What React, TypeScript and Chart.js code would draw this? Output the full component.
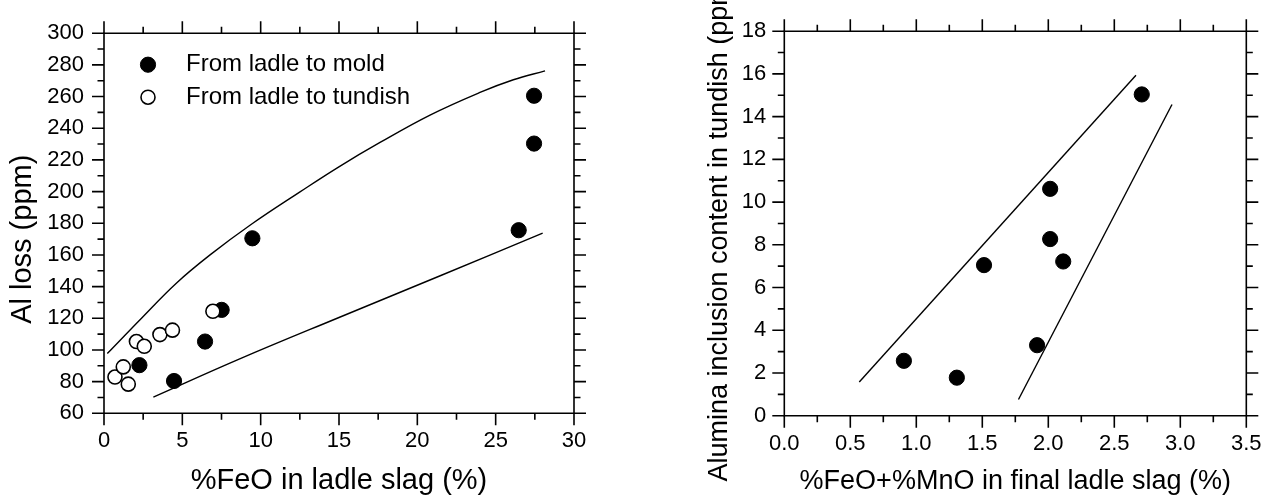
import React, { useEffect, useRef } from "react";
import { Chart, registerables } from "chart.js";

Chart.register(...registerables);

const FONT = "'Liberation Sans', Arial, Helvetica, sans-serif";

// ---------- Left chart data ----------
const moldFeO = [9.47, 27.45, 27.45, 26.47, 2.26, 4.47, 6.45, 7.51];
const moldAlLoss = [170.5, 260.5, 230.3, 175.6, 90.4, 80.4, 105.3, 125.3];
const tundishFeO = [0.7, 1.23, 1.55, 2.07, 2.57, 3.57, 4.37, 6.95];
const tundishAlLoss = [82.9, 89.3, 78.4, 105.3, 102.3, 109.7, 112.5, 124.4];
const upperBoundFeO = [0.21, 2.41, 4.6, 6.77, 9.43, 12.51, 15.02, 17.62, 20.81, 24.0, 26.13, 28.15];
const upperBoundAl = [97.7, 120.2, 142.0, 160.0, 179.5, 199.8, 215.8, 231.0, 248.3, 262.6, 270.6, 276.2];
const lowerBoundFeO = [3.15, 8.7, 15.0, 21.5, 28.0];
const lowerBoundAl = [70.2, 94.5, 120.5, 147.0, 173.7];
const leftXTickLabels = ["0", "5", "10", "15", "20", "25", "30"];
const leftYTickLabels = ["60", "80", "100", "120", "140", "160", "180", "200", "220", "240", "260", "280", "300"];

// ---------- Right chart data ----------
const slagOxide = [0.906, 1.307, 1.513, 1.915, 2.014, 2.014, 2.113, 2.708];
const aluminaTundish = [2.57, 1.78, 7.05, 3.3, 10.62, 8.27, 7.22, 15.04];
const upperLineX = [0.568, 2.664];
const upperLineY = [1.58, 15.94];
const lowerLineX = [1.774, 2.937];
const lowerLineY = [0.76, 14.57];
const rightXTickLabels = ["0.0", "0.5", "1.0", "1.5", "2.0", "2.5", "3.0", "3.5"];
const rightYTickLabels = ["0", "2", "4", "6", "8", "10", "12", "14", "16", "18"];

const zip = (xs: number[], ys: number[]) => xs.map((x, i) => ({ x, y: ys[i] }));

const frameTicks = {
  id: "frameTicks",
  afterDatasetsDraw(chart: any, _args: any, opts: any) {
    const { ctx, chartArea } = chart;
    const { left, right, top, bottom } = chartArea;
    const xs = chart.scales.x;
    const ys = chart.scales.y;
    ctx.save();
    ctx.strokeStyle = "#000";
    ctx.lineWidth = 1.6;
    ctx.lineCap = "square";
    ctx.beginPath();
    ctx.rect(left, top, right - left, bottom - top);
    ctx.stroke();
    ctx.lineCap = "butt";
    ctx.beginPath();
    const nx = Math.round((xs.max - xs.min) / opts.xMinor);
    for (let i = 0; i <= nx; i++) {
      const v = xs.min + i * opts.xMinor;
      const len = i % 2 === 0 ? 12 : 6.5;
      const px = xs.getPixelForValue(v);
      ctx.moveTo(px, bottom);
      ctx.lineTo(px, bottom + len);
      ctx.moveTo(px, top);
      ctx.lineTo(px, top - len);
    }
    const ny = Math.round((ys.max - ys.min) / opts.yMinor);
    for (let i = 0; i <= ny; i++) {
      const v = ys.min + i * opts.yMinor;
      const len = i % 2 === 0 ? 12 : 6.5;
      const py = ys.getPixelForValue(v);
      ctx.moveTo(left, py);
      ctx.lineTo(left - len, py);
      ctx.moveTo(right, py);
      ctx.lineTo(right + len, py);
    }
    ctx.stroke();

    // y-axis title
    if (opts.yTitle) {
      ctx.save();
      ctx.fillStyle = "#000";
      ctx.font = `${opts.yTitle.size}px ${FONT}`;
      ctx.textAlign = "center";
      ctx.textBaseline = "middle";
      ctx.translate(opts.yTitle.x, (top + bottom) / 2 + opts.yTitle.shift);
      ctx.rotate(-Math.PI / 2);
      ctx.fillText(opts.yTitle.text, 0, 0);
      ctx.restore();
    }

    // legend
    if (opts.legend) {
      const items = chart.data.datasets.slice(0, opts.legend.count);
      ctx.font = `${opts.legend.size}px ${FONT}`;
      ctx.textAlign = "left";
      ctx.textBaseline = "middle";
      items.forEach((ds: any, i: number) => {
        const cy = top + opts.legend.y0 + i * opts.legend.dy;
        const cx = left + opts.legend.mx;
        ctx.beginPath();
        ctx.arc(cx, cy, ds.pointRadius, 0, Math.PI * 2);
        ctx.fillStyle = ds.pointBackgroundColor;
        ctx.fill();
        ctx.lineWidth = ds.pointBorderWidth;
        ctx.strokeStyle = ds.pointBorderColor;
        ctx.stroke();
        ctx.fillStyle = "#000";
        ctx.fillText(ds.label, left + opts.legend.tx, cy);
      });
    }
    ctx.restore();
  },
};

const tickFont = { family: FONT, size: 22 };

function makeScales(p: {
  xMin: number; xMax: number; xStep: number; xLabels: string[]; xTitle: string; xTitleSize: number; xTitlePad: number;
  yMin: number; yMax: number; yStep: number; yLabels: string[];
  yWidth: number; xHeight: number; yPad: number; xPad: number;
}) {
  return {
    x: {
      type: "linear",
      position: "bottom",
      min: p.xMin,
      max: p.xMax,
      afterFit: (s: any) => { s.height = p.xHeight; },
      grid: { display: false, drawTicks: false },
      border: { display: false },
      ticks: {
        stepSize: p.xStep,
        autoSkip: false,
        maxRotation: 0,
        padding: p.xPad,
        color: "#000",
        font: tickFont,
        callback: (_v: any, i: number) => p.xLabels[i],
      },
      title: {
        display: true,
        text: p.xTitle,
        color: "#000",
        font: { family: FONT, size: p.xTitleSize },
        padding: { top: 0, bottom: p.xTitlePad },
      },
    },
    y: {
      type: "linear",
      position: "left",
      min: p.yMin,
      max: p.yMax,
      afterFit: (s: any) => { s.width = p.yWidth; },
      grid: { display: false, drawTicks: false },
      border: { display: false },
      ticks: {
        stepSize: p.yStep,
        autoSkip: false,
        padding: p.yPad,
        color: "#000",
        font: tickFont,
        callback: (_v: any, i: number) => p.yLabels[i],
      },
    },
  };
}

const leftConfig: any = {
  type: "scatter",
  data: {
    datasets: [
      {
        label: "From ladle to mold",
        data: zip(moldFeO, moldAlLoss),
        pointRadius: 7.6,
        pointBackgroundColor: "#000",
        pointBorderColor: "#000",
        pointBorderWidth: 1,
        order: 2,
      },
      {
        label: "From ladle to tundish",
        data: zip(tundishFeO, tundishAlLoss),
        pointRadius: 7,
        pointBackgroundColor: "#fff",
        pointBorderColor: "#000",
        pointBorderWidth: 1.6,
        order: 1,
      },
      {
        label: "upper",
        data: zip(upperBoundFeO, upperBoundAl),
        showLine: true,
        pointRadius: 0,
        borderColor: "#000",
        borderWidth: 1.4,
        tension: 0.4,
        order: 3,
      },
      {
        label: "lower",
        data: zip(lowerBoundFeO, lowerBoundAl),
        showLine: true,
        pointRadius: 0,
        borderColor: "#000",
        borderWidth: 1.4,
        tension: 0.4,
        order: 3,
      },
    ],
  },
  options: {
    animation: false,
    responsive: true,
    maintainAspectRatio: false,
    layout: { padding: { top: 21.7, right: 66, left: 0, bottom: 0 } },
    events: [],
    plugins: {
      legend: { display: false },
      tooltip: { enabled: false },
      frameTicks: {
        xMinor: 2.5,
        yMinor: 10,
        yTitle: { text: "Al loss (ppm)", size: 29, x: 23, shift: 16 },
        legend: { count: 2, mx: 44, tx: 82, y0: 31.5, dy: 32.5, size: 24 },
      },
    },
    scales: makeScales({
      xMin: 0, xMax: 30, xStep: 5, xLabels: leftXTickLabels,
      xTitle: "%FeO in ladle slag (%)", xTitleSize: 29, xTitlePad: 5.4,
      yMin: 60, yMax: 300, yStep: 20, yLabels: leftYTickLabels,
      yWidth: 104, xHeight: 90.7, yPad: 20, xPad: 14.3,
    }),
  },
  plugins: [frameTicks],
};

const rightConfig: any = {
  type: "scatter",
  data: {
    datasets: [
      {
        label: "Alumina inclusion content",
        data: zip(slagOxide, aluminaTundish),
        pointRadius: 7.6,
        pointBackgroundColor: "#000",
        pointBorderColor: "#000",
        pointBorderWidth: 1,
        order: 1,
      },
      {
        label: "upper",
        data: zip(upperLineX, upperLineY),
        showLine: true,
        pointRadius: 0,
        borderColor: "#000",
        borderWidth: 1.4,
        order: 2,
      },
      {
        label: "lower",
        data: zip(lowerLineX, lowerLineY),
        showLine: true,
        pointRadius: 0,
        borderColor: "#000",
        borderWidth: 1.4,
        order: 2,
      },
    ],
  },
  options: {
    animation: false,
    responsive: true,
    maintainAspectRatio: false,
    layout: { padding: { top: 20.7, right: 22.3, left: 0, bottom: 0 } },
    events: [],
    plugins: {
      legend: { display: false },
      tooltip: { enabled: false },
      frameTicks: {
        xMinor: 0.25,
        yMinor: 1,
        yTitle: { text: "Alumina inclusion content in tundish (ppm)", size: 27, x: 80, shift: 4.5 },
      },
    },
    scales: makeScales({
      xMin: 0, xMax: 3.5, xStep: 0.5, xLabels: rightXTickLabels,
      xTitle: "%FeO+%MnO in final ladle slag (%)", xTitleSize: 27, xTitlePad: 6.6,
      yMin: 0, yMax: 18, yStep: 2, yLabels: rightYTickLabels,
      yWidth: 144.3, xHeight: 88.3, yPad: 18, xPad: 15.4,
    }),
  },
  plugins: [frameTicks],
};

function ChartBox({ config, left, width }: { config: any; left: number; width: number }) {
  const ref = useRef<HTMLCanvasElement>(null);
  useEffect(() => {
    const chart = new Chart(ref.current as HTMLCanvasElement, config);
    return () => chart.destroy();
  }, [config]);
  return (
    <div style={{ position: "absolute", left, top: 0, width, height: 504 }}>
      <canvas ref={ref} />
    </div>
  );
}

export default function App() {
  return (
    <div
      style={{
        position: "fixed",
        left: 0,
        top: 0,
        width: 1277,
        height: 504,
        background: "#fff",
        overflow: "hidden",
      }}
    >
      <ChartBox config={leftConfig} left={0} width={640} />
      <ChartBox config={rightConfig} left={640} width={637} />
    </div>
  );
}
